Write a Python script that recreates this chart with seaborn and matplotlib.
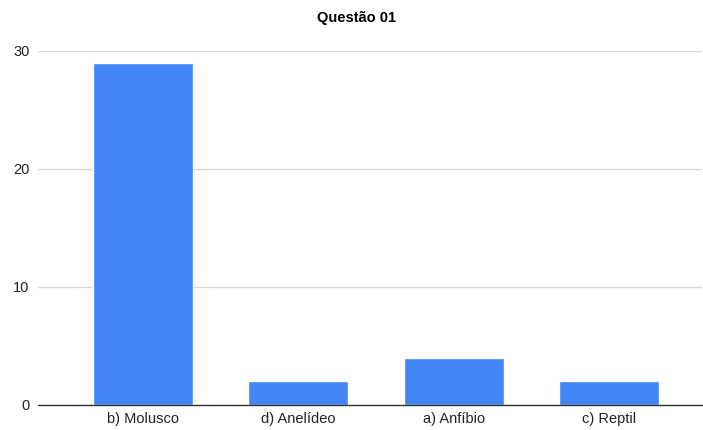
import matplotlib
matplotlib.use("Agg")
import matplotlib.pyplot as plt
import seaborn as sns
import pandas as pd

categorias = ["b) Molusco", "d) Anelídeo", "a) Anfíbio", "c) Reptil"]
respostas = [29, 2, 4, 2]
yticks = [0, 10, 20, 30]

df = pd.DataFrame({"categoria": categorias, "respostas": respostas})

sns.set_theme(style="white")
plt.rcParams["font.family"] = ["Liberation Sans", "DejaVu Sans"]

W, H = 703, 430
fig = plt.figure(figsize=(W / 100, H / 100), dpi=100)
ax = fig.add_axes([38 / W, 1 - 405 / H, 664 / W, (405 - 51) / H])

sns.barplot(data=df, x="categoria", y="respostas", color="#4285F4",
            width=0.645, ax=ax, saturation=1)

ax.set_xlim(-0.677, 3.6)
ax.set_ylim(0, 30)
ax.set_yticks(yticks)
ax.set_yticklabels([str(v) for v in yticks])
ax.yaxis.grid(True, color="#d9d9d9", linewidth=1)
ax.set_axisbelow(True)
for s in ["top", "right", "left"]:
    ax.spines[s].set_visible(False)
ax.spines["bottom"].set_color("#333333")
ax.spines["bottom"].set_linewidth(1)
ax.tick_params(axis="both", length=0, labelsize=10.5, colors="#222222")
ax.tick_params(axis="y", pad=6)
ax.tick_params(axis="x", pad=5)
ax.set_xlabel("")
ax.set_ylabel("")

fig.text(357 / W, 1 - 18 / H, "Questão 01", ha="center", va="center",
         fontsize=10.5, fontweight="bold", color="#000000")

fig.savefig("out.png", dpi=100, facecolor="white")
